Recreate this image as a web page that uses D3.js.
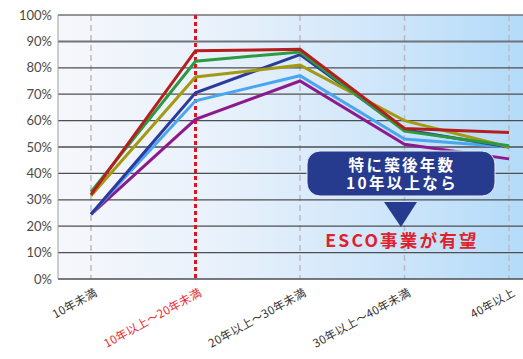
<!DOCTYPE html>
<html>
<head>
<meta charset="utf-8">
<script src="https://cdn.jsdelivr.net/npm/d3@7/dist/d3.min.js"></script>
<style>
  html, body { margin: 0; padding: 0; background: #ffffff; }
  svg { display: block; font-family: "Noto Sans CJK JP", "Noto Sans", sans-serif; }
</style>
</head>
<body>
<svg id="chart" width="523" height="359"></svg>
<script>
// Building age bands (x axis)
const categories = ["10年未満", "10年以上～20年未満", "20年以上～30年未満", "30年以上～40年未満", "40年以上"];
const highlightCategory = "10年以上～20年未満";

// Y axis ticks (percent)
const yTicks = [0, 10, 20, 30, 40, 50, 60, 70, 80, 90, 100];

// One series per line, values in percent by age band
const seriesRed       = [32, 86.5, 87, 57, 55.5];
const seriesGreen     = [33, 82.5, 86, 56, 50.5];
const seriesOlive     = [31.5, 76.5, 81, 60, 50];
const seriesBlue      = [24.5, 70.5, 85, 56.5, 50];
const seriesLightBlue = [24.5, 67.5, 77, 53, 50];
const seriesPurple    = [24.5, 60.5, 75, 51, 45.5];

// Callout text
const calloutLines = ["特に築後年数", "10年以上なら"];
const calloutResult = "ESCO事業が有望";

const series = [
  { name: "purple",    color: "#8c1a8c", values: seriesPurple },
  { name: "lightblue", color: "#4aa6ee", values: seriesLightBlue },
  { name: "blue",      color: "#2c3a9e", values: seriesBlue },
  { name: "olive",     color: "#a39a12", values: seriesOlive },
  { name: "green",     color: "#2b9a40", values: seriesGreen },
  { name: "red",       color: "#b51e1e", values: seriesRed }
];

const svg = d3.select("#chart");
const plot = { left: 58, right: 523, top: 15, bottom: 279 };

const x = d3.scalePoint().domain(categories).range([91, 509]);
const y = d3.scaleLinear().domain([0, 100]).range([plot.bottom, plot.top]);

// Background gradient: near white on the left to light blue on the right
const defs = svg.append("defs");
const grad = defs.append("linearGradient").attr("id", "bg").attr("x1", "0").attr("x2", "1").attr("y1", "0").attr("y2", "0");
grad.append("stop").attr("offset", "0").attr("stop-color", "#f6f7fb");
grad.append("stop").attr("offset", "0.35").attr("stop-color", "#e8f1fb");
grad.append("stop").attr("offset", "0.7").attr("stop-color", "#cfe6fa");
grad.append("stop").attr("offset", "1").attr("stop-color", "#b4dbf8");

svg.append("rect")
  .attr("x", plot.left).attr("y", plot.top)
  .attr("width", plot.right - plot.left).attr("height", plot.bottom - plot.top)
  .attr("fill", "url(#bg)");

// Vertical category guides
svg.append("g").selectAll("line")
  .data(categories.filter(c => c !== highlightCategory))
  .join("line")
  .attr("x1", d => x(d)).attr("x2", d => x(d))
  .attr("y1", plot.top).attr("y2", plot.bottom)
  .attr("stroke", "#b9bcc6").attr("stroke-width", 1.5)
  .attr("stroke-dasharray", "6,4");

// Horizontal gridlines
svg.append("g").selectAll("line")
  .data(yTicks)
  .join("line")
  .attr("x1", plot.left).attr("x2", plot.right)
  .attr("y1", d => y(d)).attr("y2", d => y(d))
  .attr("stroke", d => d === 90 || d === 100 ? "#6f737a" : "#4c4e52")
  .attr("stroke-width", d => d === 90 ? 2 : 1.3);

// Left axis line
svg.append("line")
  .attr("x1", plot.left).attr("x2", plot.left)
  .attr("y1", plot.top).attr("y2", plot.bottom)
  .attr("stroke", "#9a9ea6").attr("stroke-width", 1);

// Y axis labels
const yAxis = d3.axisLeft(y).tickValues(yTicks).tickSize(0).tickPadding(6).tickFormat(d => d + "%");
const yg = svg.append("g").attr("transform", `translate(${plot.left},0)`).call(yAxis);
yg.select(".domain").remove();
yg.selectAll("text")
  .attr("font-size", 13).attr("fill", "#4a4a4a")
  .attr("font-family", "Lato, 'Noto Sans', sans-serif");

// Highlighted band marker (red dotted)
svg.append("line")
  .attr("x1", x(highlightCategory)).attr("x2", x(highlightCategory))
  .attr("y1", plot.top).attr("y2", plot.bottom)
  .attr("stroke", "#e0141c").attr("stroke-width", 3)
  .attr("stroke-dasharray", "4,3");

// Series lines
const line = d3.line()
  .x((d, i) => x(categories[i]))
  .y(d => y(d));

svg.append("g").selectAll("path")
  .data(series)
  .join("path")
  .attr("d", d => line(d.values))
  .attr("fill", "none")
  .attr("stroke", d => d.color)
  .attr("stroke-width", 3)
  .attr("stroke-linejoin", "miter");

// X axis labels (rotated)
svg.append("g").selectAll("text")
  .data(categories)
  .join("text")
  .attr("transform", d => `translate(${x(d) + 7},${plot.bottom + 16}) rotate(-29)`)
  .attr("text-anchor", "end")
  .attr("font-size", 11.5)
  .attr("letter-spacing", 0.3)
  .attr("fill", d => d === highlightCategory ? "#e8282e" : "#333333")
  .text(d => d);

// Callout box
const cx = 401;
svg.append("rect")
  .attr("x", 307).attr("y", 151)
  .attr("width", 188).attr("height", 45)
  .attr("rx", 13).attr("ry", 13)
  .attr("fill", "#263a8e")
  .attr("stroke", "#e8eefa").attr("stroke-width", 1);

// Two-line callout message in a single text block
const calloutText = svg.append("text")
  .attr("text-anchor", "middle")
  .attr("font-size", 15.5)
  .attr("letter-spacing", 2.3)
  .attr("font-weight", "bold")
  .attr("fill", "#ffffff");
calloutText.selectAll("tspan")
  .data(calloutLines)
  .join("tspan")
  .attr("x", cx + 1)
  .attr("y", (d, i) => 171 + i * 18)
  .text(d => d);

// Arrow
svg.append("path")
  .attr("d", `M${cx - 17},202 L${cx + 16},202 L${cx},227 Z`)
  .attr("fill", "#263a8e");

svg.append("text")
  .attr("x", cx + 1)
  .attr("y", 247)
  .attr("text-anchor", "middle")
  .attr("font-size", 17.5)
  .attr("letter-spacing", 2.2)
  .attr("font-weight", "bold")
  .attr("fill", "#e0202a")
  .text(calloutResult);
</script>
</body>
</html>
